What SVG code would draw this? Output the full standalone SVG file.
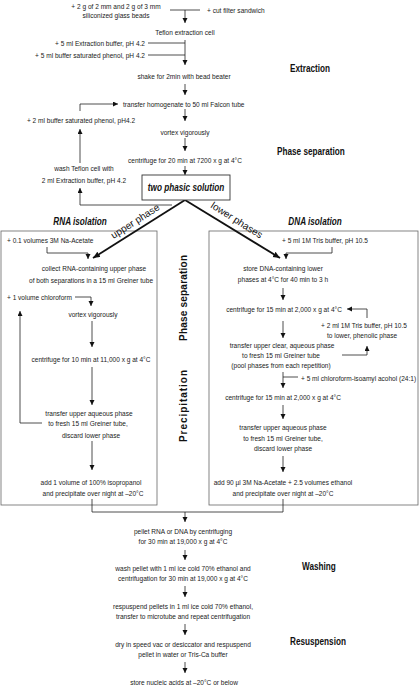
<svg xmlns="http://www.w3.org/2000/svg" width="420" height="686" viewBox="0 0 420 686">
<style>
.t{font-family:"Liberation Sans",Arial,sans-serif;font-size:8px;fill:#1a1a1a}
.c{text-anchor:middle}
.e{text-anchor:end}
.h{font-family:"Liberation Sans",Arial,sans-serif;font-size:10px;font-weight:bold;fill:#111}
.hi{font-family:"Liberation Sans",Arial,sans-serif;font-size:10px;font-weight:bold;font-style:italic;fill:#111;text-anchor:middle}
.v{font-family:"Liberation Sans",Arial,sans-serif;font-size:10px;font-weight:bold;fill:#111;text-anchor:middle}
.d{font-family:"Liberation Sans",Arial,sans-serif;font-size:10px;fill:#111;text-anchor:middle}
.ln{stroke:#222;stroke-width:0.8;fill:none}
.a{marker-end:url(#ah)}
.thick{stroke:#111;stroke-width:1.8;fill:none;marker-end:url(#ahb)}
.box{fill:none;stroke:#666;stroke-width:0.8}
</style>
<defs>
<marker id="ah" markerUnits="userSpaceOnUse" markerWidth="6" markerHeight="6" refX="5" refY="2.5" orient="auto">
<path d="M0,0 L5,2.5 L0,5 Z" fill="#111"/>
</marker>
<marker id="ahb" markerUnits="userSpaceOnUse" markerWidth="8" markerHeight="8" refX="7" refY="3" orient="auto">
<path d="M0,0 L7,3 L0,6 Z" fill="#111"/>
</marker>
</defs>

<g id="sections">
<rect id="rna-box" class="box" x="1" y="231" width="156" height="274"/>
<rect id="dna-box" class="box" x="209" y="231" width="209" height="274"/>
<text class="h" transform="translate(290,72) scale(.82,1)">Extraction</text>
<text class="h" transform="translate(277,155) scale(.82,1)">Phase separation</text>
<text class="hi" transform="translate(80,225) scale(.82,1)">RNA isolation</text>
<text class="hi" transform="translate(315,225) scale(.82,1)">DNA isolation</text>
<text class="v" transform="translate(187,298) rotate(-90)" textLength="86" lengthAdjust="spacing">Phase separation</text>
<text class="v" transform="translate(187,406) rotate(-90)" textLength="72" lengthAdjust="spacing">Precipitation</text>
<text class="h" transform="translate(302,570) scale(.82,1)">Washing</text>
<text class="h" transform="translate(290,645) scale(.82,1)">Resuspension</text>
</g>

<g id="connectors">
<path class="ln" d="M170,10 H200"/>
<path class="ln a" d="M185,10 V23"/>
<path class="ln" d="M148,43 H185 M148,55 H185"/>
<path class="ln a" d="M185,40 V65"/>
<path class="ln a" d="M185,84 V95"/>
<path class="ln a" d="M80,111 V104 H118"/>
<path class="ln a" d="M185,109 V121"/>
<path class="ln a" d="M185,138 V151"/>
<path class="ln a" d="M185,166 V175"/>
<path class="ln a" d="M80,163 V129"/>
<path class="ln a" d="M172,205 H80 V188"/>
<path class="thick" d="M185,200 L93,258"/>
<path class="thick" d="M185,200 L280,258"/>
<path class="ln a" d="M47,247 V253 H88 V259"/>
<path class="ln a" d="M75,297 H91 V306"/>
<path class="ln a" d="M92,321 V347"/>
<path class="ln a" d="M92,367 V405"/>
<path class="ln a" d="M42,423 H20 V311"/>
<path class="ln a" d="M92,441 V470"/>
<path class="ln a" d="M332,247 V253 H286 V259"/>
<path class="ln a" d="M283,288 V300"/>
<path class="ln a" d="M367,318 V309 H347"/>
<path class="ln a" d="M283,321 V338"/>
<path class="ln a" d="M342,355 H367 V346"/>
<path class="ln" d="M283,377 H298"/>
<path class="ln a" d="M283,372 V388"/>
<path class="ln a" d="M283,405 V419"/>
<path class="ln a" d="M283,456 V472"/>
<path class="ln" d="M92,499 V512 H283 V499"/>
<path class="ln a" d="M185,512 V522"/>
<path class="ln a" d="M185,550 V560"/>
<path class="ln a" d="M185,586 V597"/>
<path class="ln a" d="M185,624 V635"/>
<path class="ln a" d="M185,662 V673"/>
</g>

<g id="n-beads"><text class="t c" transform="translate(116,9) scale(.82,1)">+ 2 g of 2 mm and 2 g of 3 mm</text><text class="t c" transform="translate(116,18) scale(.82,1)">siliconized glass beads</text></g>
<g id="n-filter"><text class="t" transform="translate(207,13) scale(.82,1)">+ cut filter sandwich</text></g>
<g id="n-teflon"><text class="t c" transform="translate(185,35) scale(.82,1)">Teflon extraction cell</text></g>
<g id="n-extbuf"><text class="t e" transform="translate(145,46) scale(.82,1)">+ 5 ml Extraction buffer, pH 4.2</text></g>
<g id="n-phenol"><text class="t e" transform="translate(145,58) scale(.82,1)">+ 5 ml buffer saturated phenol, pH 4.2</text></g>
<g id="n-shake"><text class="t c" transform="translate(184,79) scale(.82,1)">shake for 2min with bead beater</text></g>
<g id="n-transfer"><text class="t" transform="translate(123,107) scale(.82,1)">transfer homogenate to 50 ml Falcon tube</text></g>
<g id="n-phenol2"><text class="t c" transform="translate(81,123) scale(.82,1)">+ 2 ml buffer saturated phenol, pH4.2</text></g>
<g id="n-vortex"><text class="t c" transform="translate(185,135) scale(.82,1)">vortex vigorously</text></g>
<g id="n-centrifuge1"><text class="t c" transform="translate(185,163) scale(.82,1)">centrifuge for 20 min at 7200 x g at 4°C</text></g>
<g id="n-wash"><text class="t c" transform="translate(84,171) scale(.82,1)">wash Teflon cell with</text><text class="t c" transform="translate(84,183) scale(.82,1)">2 ml Extraction buffer, pH 4.2</text></g>
<g id="n-twophasic"><rect x="142" y="175" width="88" height="25" fill="#fff" stroke="#333" stroke-width="0.9"/><text class="hi" transform="translate(186,191) scale(.82,1)">two phasic solution</text></g>
<g id="l-upper"><text class="d" transform="translate(137,224) rotate(-32.5)">upper phase</text></g>
<g id="l-lower"><text class="d" transform="translate(235,223) rotate(32.3)">lower phases</text></g>

<g id="r-naac"><text class="t" transform="translate(7,243) scale(.82,1)">+ 0.1 volumes 3M Na-Acetate</text></g>
<g id="r-collect"><text class="t c" transform="translate(94,271) scale(.82,1)">collect RNA-containing upper phase</text><text class="t c" transform="translate(91,283) scale(.82,1)">of both separations in a 15 ml Greiner tube</text></g>
<g id="r-chloro"><text class="t" transform="translate(7,300) scale(.82,1)">+ 1 volume chloroform</text></g>
<g id="r-vortex"><text class="t c" transform="translate(93,317) scale(.82,1)">vortex vigorously</text></g>
<g id="r-centrifuge"><text class="t c" transform="translate(91,362) scale(.82,1)">centrifuge for 10 min at 11,000 x g at 4°C</text></g>
<g id="r-transfer"><text class="t c" transform="translate(89,416) scale(.82,1)">transfer upper aqueous phase</text><text class="t c" transform="translate(88,426) scale(.82,1)">to fresh 15 ml Greiner tube,</text><text class="t c" transform="translate(91,438) scale(.82,1)">discard lower phase</text></g>
<g id="r-iso"><text class="t c" transform="translate(91,485) scale(.82,1)">add 1 volume of 100% isopropanol</text><text class="t c" transform="translate(93,496) scale(.82,1)">and precipitate over night at –20°C</text></g>

<g id="d-tris"><text class="t" transform="translate(282,243) scale(.82,1)">+ 5 ml 1M Tris buffer, pH 10.5</text></g>
<g id="d-store"><text class="t c" transform="translate(283,271) scale(.82,1)">store DNA-containing lower</text><text class="t c" transform="translate(283,282) scale(.82,1)">phases at 4°C for 40 min to 3 h</text></g>
<g id="d-centrifuge1"><text class="t c" transform="translate(284,312) scale(.82,1)">centrifuge for 15 min at 2,000 x g at 4°C</text></g>
<g id="d-tris2"><text class="t c" transform="translate(364,328) scale(.82,1)">+ 2 ml 1M Tris buffer, pH 10.5</text><text class="t c" transform="translate(362,338) scale(.82,1)">to lower, phenolic phase</text></g>
<g id="d-transfer1"><text class="t c" transform="translate(282,348) scale(.82,1)">transfer upper clear, aqueous phase</text><text class="t c" transform="translate(281,358) scale(.82,1)">to fresh 15 ml Greiner tube</text><text class="t c" transform="translate(281,368) scale(.82,1)">(pool phases from each repetition)</text></g>
<g id="d-cia"><text class="t" transform="translate(301,381) scale(.82,1)">+ 5 ml chloroform-isoamyl acohol (24:1)</text></g>
<g id="d-centrifuge2"><text class="t c" transform="translate(283,400) scale(.82,1)">centrifuge for 15 min at 2,000 x g at 4°C</text></g>
<g id="d-transfer2"><text class="t c" transform="translate(283,430) scale(.82,1)">transfer upper aqueous phase</text><text class="t c" transform="translate(283,441) scale(.82,1)">to fresh 15 ml Greiner tube,</text><text class="t c" transform="translate(283,451) scale(.82,1)">discard lower phase</text></g>
<g id="d-eth"><text class="t c" transform="translate(283,485) scale(.82,1)">add 90 µl 3M Na-Acetate + 2.5 volumes ethanol</text><text class="t c" transform="translate(283,496) scale(.82,1)">and precipitate over night at –20°C</text></g>

<g id="b-pellet"><text class="t c" transform="translate(183,534) scale(.82,1)">pellet RNA or DNA by centrifuging</text><text class="t c" transform="translate(183,544) scale(.82,1)">for 30 min at 19,000 x g at 4°C</text></g>
<g id="b-wash"><text class="t c" transform="translate(183,571) scale(.82,1)">wash pellet with 1 ml ice cold 70% ethanol and</text><text class="t c" transform="translate(183,581) scale(.82,1)">centrifugation for 30 min at 19,000 x g at 4°C</text></g>
<g id="b-resusp"><text class="t c" transform="translate(183,609) scale(.82,1)">respuspend pellets in 1 ml ice cold 70% ethanol,</text><text class="t c" transform="translate(183,619) scale(.82,1)">transfer to microtube and repeat centrifugation</text></g>
<g id="b-dry"><text class="t c" transform="translate(183,647) scale(.82,1)">dry in speed vac or desiccator and respuspend</text><text class="t c" transform="translate(183,657) scale(.82,1)">pellet in water or Tris-Ca buffer</text></g>
<g id="b-store"><text class="t c" transform="translate(184,685) scale(.82,1)">store nucleic acids at –20°C or below</text></g>
</svg>
